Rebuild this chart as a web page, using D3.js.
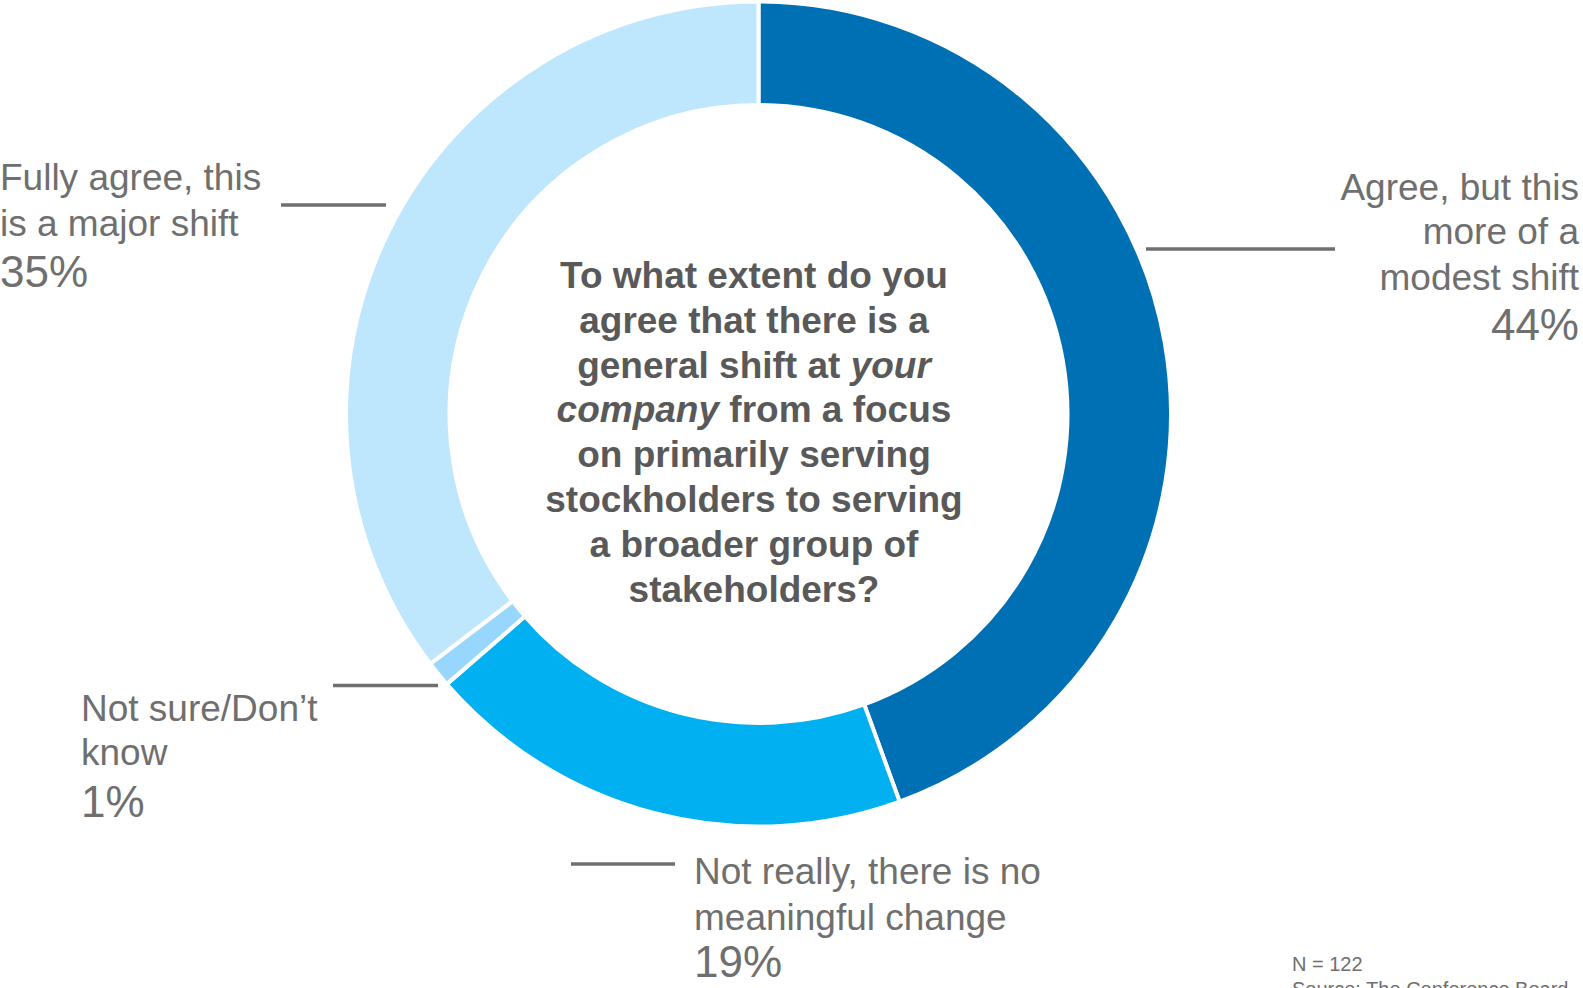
<!DOCTYPE html>
<html>
<head>
<meta charset="utf-8">
<script src="https://cdn.jsdelivr.net/npm/d3@7"></script>
<style>
  html, body { margin: 0; padding: 0; background: #fff; overflow: hidden; }
  svg { display: block; font-family: "Liberation Sans", Arial, sans-serif; }
</style>
</head>
<body>
<svg id="chart" width="1583" height="988"></svg>
<script>
// ---- data ----
const categories = [
  "Agree, but this more of a modest shift",
  "Not really, there is no meaningful change",
  "Not sure/Don’t know",
  "Fully agree, this is a major shift"
];
const values = [44, 19, 1, 35];
const colors = ["#0070B5", "#00B0F0", "#97D7FD", "#BEE6FD"];
const labelLines = [
  ["Agree, but this", "more of a", "modest shift"],
  ["Not really, there is no", "meaningful change"],
  ["Not sure/Don’t", "know"],
  ["Fully agree, this", "is a major shift"]
];
const pctLabels = ["44%", "19%", "1%", "35%"];
const titleLines = [
  [["To what extent do you", false]],
  [["agree that there is a", false]],
  [["general shift at ", false], ["your", true]],
  [["company", true], [" from a focus", false]],
  [["on primarily serving", false]],
  [["stockholders to serving", false]],
  [["a broader group of", false]],
  [["stakeholders?", false]]
];
const noteLines = ["N = 122", "Source: The Conference Board"];

// ---- layout ----
const svg = d3.select("#chart");
const cx = 758.5, cy = 414;
const outerR = 412.5, innerR = 309;

const pie = d3.pie().sort(null).value(d => d)(values);
const arc = d3.arc().innerRadius(innerR).outerRadius(outerR);
const color = d3.scaleOrdinal().domain(d3.range(values.length)).range(colors);

const g = svg.append("g").attr("transform", `translate(${cx},${cy})`);
g.selectAll("path")
  .data(pie)
  .join("path")
  .attr("d", arc)
  .attr("fill", (d, i) => color(i))
  .attr("stroke", "#fff")
  .attr("stroke-width", 4);

// center title
const title = svg.append("text")
  .attr("text-anchor", "middle")
  .attr("font-size", 37)
  .attr("font-weight", "bold")
  .attr("fill", "#595959");
titleLines.forEach((line, li) => {
  line.forEach((seg, si) => {
    const t = title.append("tspan")
      .text(seg[0])
      .attr("font-style", seg[1] ? "italic" : "normal");
    if (si === 0) t.attr("x", 754).attr("y", 288 + li * 44.8);
  });
});

// label placement (text anchor positions and connector lines)
const labelCfg = [
  { x: 1579, anchor: "end", ys: [200, 244, 290], py: 339.5,
    line: [1146, 1335, 249] },
  { x: 694, anchor: "start", ys: [884, 930], py: 977,
    line: [571, 675, 864] },
  { x: 81, anchor: "start", ys: [720.5, 765], py: 817,
    line: [333, 438, 685.5] },
  { x: 0, anchor: "start", ys: [190, 236], py: 286.5,
    line: [281, 386, 205] }
];

const lab = svg.append("g").attr("fill", "#6F6F6F");
labelCfg.forEach((c, i) => {
  svg.append("line")
    .attr("x1", c.line[0]).attr("x2", c.line[1])
    .attr("y1", c.line[2]).attr("y2", c.line[2])
    .attr("stroke", "#6F6F6F").attr("stroke-width", 3.5);
  const t = lab.append("text").attr("text-anchor", c.anchor).attr("font-size", 37);
  labelLines[i].forEach((s, k) => {
    t.append("tspan").attr("x", c.x).attr("y", c.ys[k]).text(s);
  });
  lab.append("text")
    .attr("text-anchor", c.anchor)
    .attr("x", c.x).attr("y", c.py)
    .attr("font-size", 44)
    .text(pctLabels[i]);
});

// notes (the source line runs off the bottom edge, as in the reference)
svg.append("g").attr("fill", "#6F6F6F").attr("font-size", 20)
  .selectAll("text").data(noteLines).join("text")
  .attr("x", 1292).attr("y", (d, i) => 970.5 + i * 25.5)
  .text(d => d);
</script>
</body>
</html>
